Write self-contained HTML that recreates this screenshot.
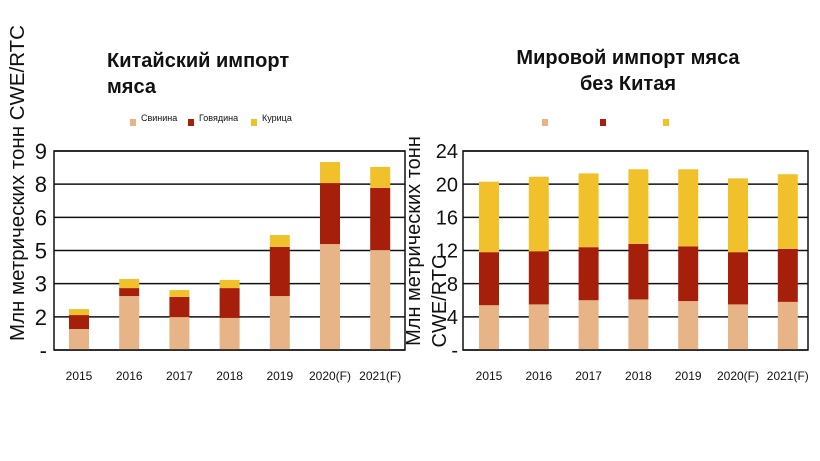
<!DOCTYPE html>
<html><head><meta charset="utf-8">
<style>
html,body{margin:0;padding:0;background:#fff;}
svg{display:block;font-family:"Liberation Sans","DejaVu Sans",sans-serif;}
</style></head>
<body>
<svg id="chart" width="820" height="461" viewBox="0 0 820 461" xmlns="http://www.w3.org/2000/svg">
<rect width="820" height="461" fill="#fff"/>
<g id="left"></g>
<g id="right"></g>
</svg>
<script>
const categories = ["2015","2016","2017","2018","2019","2020(F)","2021(F)"];
const chinaPork = [0.95,2.44,1.49,1.45,2.44,4.79,4.52];
const chinaBeef = [0.63,0.36,0.91,1.35,2.22,2.76,2.81];
const chinaChicken = [0.27,0.41,0.31,0.37,0.54,0.95,0.95];
const chinaTicks = ["-","2","3","5","6","8","9"];
const worldPork = [5.4,5.5,6.0,6.1,5.9,5.5,5.8];
const worldBeef = [6.4,6.4,6.4,6.7,6.6,6.3,6.4];
const worldChicken = [8.5,9.0,8.9,9.0,9.3,8.9,9.0];
const worldTicks = ["-","4","8","12","16","20","24"];
const seriesNames = ["Свинина","Говядина","Курица"];

const NS="http://www.w3.org/2000/svg";
const colors=["#e6b487","#a61f0a","#f0c12b"];
function mk(parent,tag,attrs,text){const e=document.createElementNS(NS,tag);for(const k in attrs)e.setAttribute(k,attrs[k]);if(text!==undefined)e.textContent=text;parent.appendChild(e);return e;}

function draw(g,cfg){
  const x0=cfg.x0,x1=cfg.x1,yTop=151,yBot=350,max=cfg.max;
  const y=v=>yBot-(v/max)*(yBot-yTop);
  const xc=i=>cfg.c0+i*cfg.step;
  // gridlines
  cfg.ticks.forEach((t,i)=>{
    const v=i*max/(cfg.ticks.length-1), yy=y(v);
    const l=mk(g,"line",{x1:x0,x2:x1,y1:yy,y2:yy,stroke:"#111","stroke-width":1.5});
    
    
    const tx=mk(g,"text",{x:cfg.tickX,y:yy+(cfg.tickFont*0.36),"text-anchor":"end","font-size":cfg.tickFont,fill:"#111"},t);
    
    
  });
  // bars
  categories.forEach((c,i)=>{
    let base=0;
    cfg.series.forEach((s,k)=>{
      const v=s[i];
      const r=mk(g,"rect",{x:xc(i)-10,y:y(base+v),width:20,height:y(base)-y(base+v),fill:colors[k]});
      
      
      base+=v;
    });
    const lb=mk(g,"text",{x:xc(i),y:380,"text-anchor":"middle","font-size":12,fill:"#111"},c);
    
    
  });
  // frame
  const f=mk(g,"rect",{x:x0,y:yTop,width:x1-x0,height:yBot-yTop,fill:"none",stroke:"#111","stroke-width":1.5});
  
  
  // legend
  cfg.legendX.forEach((lx,k)=>{
    const m=mk(g,"rect",{x:lx,y:119,width:6,height:7,fill:colors[k]});
    
    
    if(cfg.legendText){
      const t=mk(g,"text",{x:lx+11,y:121,"font-size":9,fill:"#111"},seriesNames[k]);
      
      
    }
  });
}

const L=document.getElementById("left"), R=document.getElementById("right");
draw(L,{x0:54,x1:405,max:9,c0:79,step:50.2,ticks:chinaTicks,tickX:47,tickFont:22,series:[chinaPork,chinaBeef,chinaChicken],legendX:[130,188,251],legendText:true});
draw(R,{x0:463,x1:808,max:24,c0:489,step:49.8,ticks:worldTicks,tickX:458,tickFont:20,series:[worldPork,worldBeef,worldChicken],legendX:[542,600,663],legendText:false});

// titles
let t;
t=mk(L,"text",{x:107,y:67,"font-size":20,"font-weight":"bold",fill:"#111"},"Китайский импорт");


t=mk(L,"text",{x:107,y:93,"font-size":20,"font-weight":"bold",fill:"#111"},"мяса");


t=mk(R,"text",{x:628,y:64,"font-size":20,"font-weight":"bold",fill:"#111","text-anchor":"middle"},"Мировой импорт мяса");


t=mk(R,"text",{x:628,y:90,"font-size":20,"font-weight":"bold",fill:"#111","text-anchor":"middle"},"без Китая");


// y-axis titles
t=mk(L,"text",{x:0,y:0,"font-size":20.5,fill:"#111","text-anchor":"middle",transform:"translate(24,183) rotate(-90)"},"Млн метрических тонн CWE/RTC");


t=mk(R,"text",{x:0,y:0,"font-size":20,fill:"#111","text-anchor":"middle",transform:"translate(420,241) rotate(-90)"},"Млн метрических тонн");


t=mk(R,"text",{x:0,y:0,"font-size":20,fill:"#111","text-anchor":"middle",transform:"translate(446,301) rotate(-90)"},"CWE/RTC");


</script>
</body></html>
